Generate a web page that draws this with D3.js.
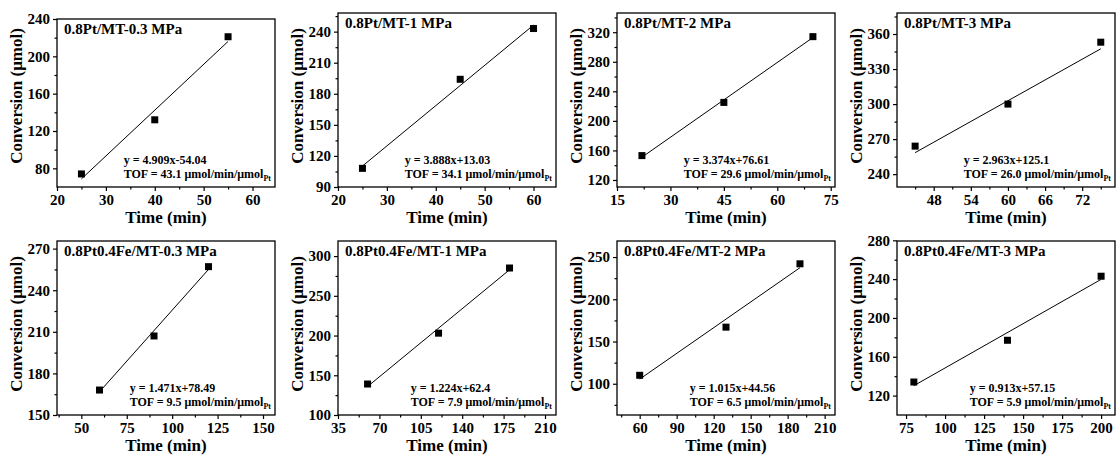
<!DOCTYPE html>
<html><head><meta charset="utf-8">
<script src="https://cdn.jsdelivr.net/npm/d3@7/dist/d3.min.js"></script>
<style>
html,body{margin:0;padding:0;background:#fff;}
svg{display:block;}
text{font-family:"Liberation Serif","Times New Roman",serif;font-weight:bold;fill:#000;}
</style></head>
<body>
<svg id="chart" width="1117" height="457"></svg>
<script>
const titles = ["0.8Pt/MT-0.3 MPa","0.8Pt/MT-1 MPa","0.8Pt/MT-2 MPa","0.8Pt/MT-3 MPa",
  "0.8Pt0.4Fe/MT-0.3 MPa","0.8Pt0.4Fe/MT-1 MPa","0.8Pt0.4Fe/MT-2 MPa","0.8Pt0.4Fe/MT-3 MPa"];
const timeValues = [[25,40,55],[25,45,60],[22,45,70],[45,60,75],[60,90,120],[60,120,180],[60,130,190],[80,140,200]];
const conversionValues = [[74,132,221],[108,194,243],[153,225,314],[264,300,353],[168,207,257],[139,203,285],[110,167,242],[134,177,243]];
const slopes = [4.909,3.888,3.374,2.963,1.471,1.224,1.015,0.913];
const intercepts = [-54.04,13.03,76.61,125.1,78.49,62.4,44.56,57.15];
const equationLabels = ["y = 4.909x-54.04","y = 3.888x+13.03","y = 3.374x+76.61","y = 2.963x+125.1",
  "y = 1.471x+78.49","y = 1.224x+62.4","y = 1.015x+44.56","y = 0.913x+57.15"];
const tofValues = ["43.1","34.1","29.6","26.0","9.5","7.9","6.5","5.9"];
const xDomains = [[20,64.6],[20,64.6],[15,76.2],[42.07,77.3],[36.6,156.6],[35,219.3],[41.6,218.4],[69.2,208.9]];
const yDomains = [[60,240],[90,258],[110.5,346],[229,378],[150,275.5],[100,319],[63,269],[100,279.3]];
const xTickValues = [[20,30,40,50,60],[20,30,40,50,60],[15,30,45,60,75],[48,54,60,66,72],
  [50,75,100,125,150],[35,70,105,140,175,210],[60,90,120,150,180,210],[75,100,125,150,175,200]];
const yTickValues = [[80,120,160,200,240],[90,120,150,180,210,240],[120,160,200,240,280,320],[240,270,300,330,360],
  [150,180,210,240,270],[100,150,200,250,300],[100,150,200,250],[120,160,200,240,280]];
const xTitle = "Time (min)";
const yTitle = "Conversion (μmol)";

const svg = d3.select("#chart");
const lefts = [57,338,617,897];
const frameW = 218;
const rowTops = [13,241];
const rowBottoms = [187,415];

titles.forEach((title,i)=>{
  const row = Math.floor(i/4), col = i%4;
  const L = lefts[col], R = L+frameW;
  const T = (i===0) ? 19 : rowTops[row];
  const B = rowBottoms[row];
  const x = d3.scaleLinear().domain(xDomains[i]).range([L,R]);
  const y = d3.scaleLinear().domain(yDomains[i]).range([B,T]);
  const g = svg.append("g");

  const xt = xTickValues[i], yt = yTickValues[i];
  const xStep = (xt[1]-xt[0])/2, yStep = (yt[1]-yt[0])/2;
  const xMinor = d3.range(xt[0]-xStep*4, xt[xt.length-1]+xStep*4, xStep*2).map(v=>v+xStep)
    .filter(v=>v>xDomains[i][0]+1e-6 && v<xDomains[i][1]-1e-6);
  const yMinor = d3.range(yt[0]-yStep*4, yt[yt.length-1]+yStep*4, yStep*2).map(v=>v+yStep)
    .filter(v=>v>yDomains[i][0]+1e-6 && v<yDomains[i][1]-1e-6);

  const xAxis = d3.axisBottom(x).tickValues(xt).tickSize(4).tickPadding(3).tickFormat(d3.format("d"));
  const yAxis = d3.axisLeft(y).tickValues(yt).tickSize(4).tickPadding(3).tickFormat(d3.format("d"));
  g.append("g").attr("transform",`translate(0,${B})`).call(xAxis);
  g.append("g").attr("transform",`translate(${L},0)`).call(yAxis);
  g.append("g").attr("transform",`translate(0,${B})`)
    .call(d3.axisBottom(x).tickValues(xMinor).tickSize(2.5).tickFormat(""));
  g.append("g").attr("transform",`translate(${L},0)`)
    .call(d3.axisLeft(y).tickValues(yMinor).tickSize(2.5).tickFormat(""));
  g.selectAll(".domain").remove();
  g.selectAll(".tick line").attr("stroke","#000").attr("stroke-width",1.2);
  g.selectAll(".tick text").style("font-size","15px").style("font-family","'Liberation Serif',serif").style("font-weight","bold");

  g.append("rect").attr("x",L).attr("y",T).attr("width",R-L).attr("height",B-T)
    .attr("fill","none").attr("stroke","#000").attr("stroke-width",1.3);

  const xs = timeValues[i];
  const x0 = xs[0], x1 = xs[xs.length-1];
  g.append("line")
    .attr("x1",x(x0)).attr("y1",y(slopes[i]*x0+intercepts[i]))
    .attr("x2",x(x1)).attr("y2",y(slopes[i]*x1+intercepts[i]))
    .attr("stroke","#000").attr("stroke-width",1);

  const sz = 7;
  g.selectAll("rect.pt").data(xs.map((v,k)=>[v,conversionValues[i][k]])).enter()
    .append("rect").attr("class","pt")
    .attr("x",d=>x(d[0])-sz/2).attr("y",d=>y(d[1])-sz/2)
    .attr("width",sz).attr("height",sz).attr("fill","#000");

  g.append("text").attr("x",L+7).attr("y",T+15).style("font-size","15px").text(title);

  const tof = g.append("text").attr("y",B-9).style("font-size","12px");
  tof.append("tspan").text(`TOF = ${tofValues[i]} μmol/min/μmol`);
  tof.append("tspan").attr("dy",3).style("font-size","8px").text("Pt");
  const w = tof.node().getComputedTextLength();
  const tx = R-4-w;
  tof.attr("x",tx);
  g.append("text").attr("x",tx).attr("y",B-23).style("font-size","12px").text(equationLabels[i]);

  g.append("text").attr("x",(L+R)/2).attr("y",B+36).attr("text-anchor","middle")
    .style("font-size","17px").text(xTitle);
  g.append("text").attr("transform",`translate(${L-35},${rowTops[row]+83}) rotate(-90)`)
    .attr("text-anchor","middle").style("font-size","17px").text(yTitle);
});
</script>
</body></html>
